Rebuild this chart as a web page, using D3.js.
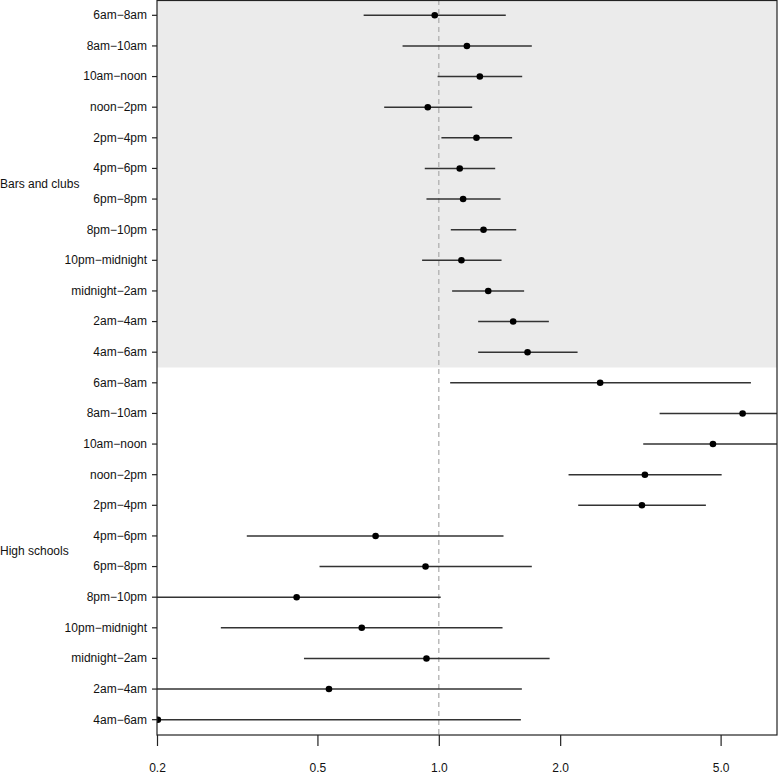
<!DOCTYPE html>
<html>
<head>
<meta charset="utf-8">
<script src="https://cdn.jsdelivr.net/npm/d3@7"></script>
<style>
  body { margin: 0; background: #fff; }
  svg { display: block; }
  text { font-family: "Liberation Sans", Arial, Helvetica, sans-serif; fill: #111; }
</style>
</head>
<body>
<svg id="chart" width="780" height="776"></svg>
<script>
// ---- Data ----
const groups = ["Bars and clubs", "High schools"];
const periods = ["6am\u22128am", "8am\u221210am", "10am\u2212noon", "noon\u22122pm", "2pm\u22124pm", "4pm\u22126pm",
                 "6pm\u22128pm", "8pm\u221210pm", "10pm\u2212midnight", "midnight\u22122am", "2am\u22124am", "4am\u22126am"];
// Point estimates and confidence limits
const barsEst  = [0.977, 1.174, 1.264, 0.939, 1.240, 1.127, 1.149, 1.291, 1.138, 1.326, 1.529, 1.660];
const barsLo   = [0.651, 0.813, 0.993, 0.732, 1.015, 0.923, 0.932, 1.071, 0.909, 1.079, 1.252, 1.252];
const barsHi   = [1.466, 1.701, 1.610, 1.210, 1.520, 1.380, 1.423, 1.556, 1.431, 1.628, 1.875, 2.209];
const schoolEst = [2.513, 5.670, 4.786, 3.245, 3.190, 0.697, 0.927, 0.444, 0.644, 0.932, 0.534, 0.201];
const schoolLo  = [1.067, 3.529, 3.214, 2.098, 2.217, 0.334, 0.506, 0.120, 0.288, 0.463, 0.110, 0.090];
const schoolHi  = [5.945, 9.500, 8.800, 5.030, 4.597, 1.447, 1.701, 1.011, 1.439, 1.883, 1.607, 1.598];
const xTicks = [0.2, 0.5, 1.0, 2.0, 5.0];
const refLine = 1;

(function () {
const svg = d3.select("#chart");
const mLeft = 157, mRight = 777, mTop = 0, mBottom = 735;

const rows = [];
groups.forEach((g, gi) => {
  const est = gi === 0 ? barsEst : schoolEst;
  const lo = gi === 0 ? barsLo : schoolLo;
  const hi = gi === 0 ? barsHi : schoolHi;
  periods.forEach((p, i) => rows.push({ group: g, gi, period: p, key: gi + "-" + i, est: est[i], lo: lo[i], hi: hi[i] }));
});

const x = d3.scaleLog().domain([0.2, 6.90]).range([mLeft, mRight]);
const y = d3.scaleBand().domain(rows.map(d => d.key)).range([mTop, mBottom]).paddingInner(0).paddingOuter(0);
const yc = k => y(k) + y.bandwidth() / 2;

svg.append("defs").append("clipPath").attr("id", "plotclip")
  .append("rect").attr("x", mLeft).attr("y", mTop).attr("width", mRight - mLeft).attr("height", mBottom - mTop);

const barRows = rows.filter(d => d.gi === 0);
svg.append("rect")
  .attr("x", mLeft).attr("y", y(barRows[0].key))
  .attr("width", mRight - mLeft)
  .attr("height", y(barRows[barRows.length - 1].key) + y.bandwidth() - y(barRows[0].key))
  .attr("fill", "#ebebeb");

const plot = svg.append("g").attr("clip-path", "url(#plotclip)");

plot.append("line")
  .attr("x1", x(refLine)).attr("x2", x(refLine))
  .attr("y1", mTop).attr("y2", mBottom)
  .attr("stroke", "#b0b0b0").attr("stroke-width", 1.3).attr("stroke-dasharray", "5,4");

plot.selectAll("line.ci").data(rows).enter().append("line")
  .attr("class", "ci")
  .attr("x1", d => x(d.lo)).attr("x2", d => x(d.hi))
  .attr("y1", d => yc(d.key)).attr("y2", d => yc(d.key))
  .attr("stroke", "#333").attr("stroke-width", 1.5);

plot.selectAll("circle.pt").data(rows).enter().append("circle")
  .attr("class", "pt")
  .attr("cx", d => x(d.est)).attr("cy", d => yc(d.key))
  .attr("r", 3.3).attr("fill", "#000");

svg.append("rect")
  .attr("x", mLeft).attr("y", mTop + 0.5)
  .attr("width", mRight - mLeft).attr("height", mBottom - mTop - 0.5)
  .attr("fill", "none").attr("stroke", "#222").attr("stroke-width", 1.2);

const xAxis = d3.axisBottom(x).tickValues(xTicks).tickFormat(d3.format(".1f")).tickSize(11).tickSizeOuter(0);
const gx = svg.append("g").attr("transform", `translate(0,${mBottom})`).call(xAxis);
gx.select(".domain").remove();
gx.selectAll(".tick line").attr("stroke", "#222").attr("stroke-width", 1.2);
gx.selectAll(".tick text").attr("font-size", 12).attr("dy", 0).attr("y", 37)
  .attr("font-family", "'Liberation Sans', Arial, sans-serif").attr("fill", "#111");

const yAxis = d3.axisLeft(y).tickFormat(k => rows.find(r => r.key === k).period).tickSize(5).tickPadding(5).tickSizeOuter(0);
const gy = svg.append("g").attr("transform", `translate(${mLeft},0)`).call(yAxis);
gy.select(".domain").remove();
gy.selectAll(".tick line").attr("stroke", "#222").attr("stroke-width", 1.2);
gy.selectAll(".tick text").attr("font-size", 12)
  .attr("font-family", "'Liberation Sans', Arial, sans-serif").attr("fill", "#111");

groups.forEach((g, gi) => {
  const gr = rows.filter(d => d.gi === gi);
  const mid = (y(gr[0].key) + y(gr[gr.length - 1].key) + y.bandwidth()) / 2;
  svg.append("text").attr("x", 0).attr("y", mid).attr("dy", "0.35em")
    .attr("font-size", 12).text(g);
});
})();
</script>
</body>
</html>
